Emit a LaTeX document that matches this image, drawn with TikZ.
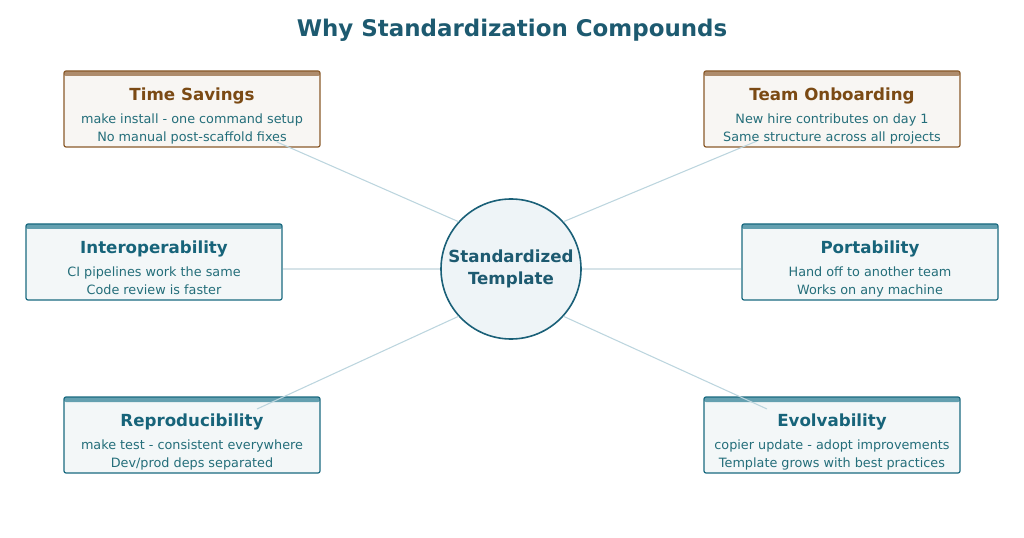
\documentclass[tikz,border=0pt]{standalone}
\usepackage{fontspec}
\setmainfont{DejaVu Sans}
\usetikzlibrary{calc}
\definecolor{maintitle}{HTML}{1D5A70}
\definecolor{brownB}{HTML}{8A5A2A}
\definecolor{brownH}{HTML}{AE8C6C}
\definecolor{brownF}{HTML}{F8F6F3}
\definecolor{brownT}{HTML}{7B4A14}
\definecolor{tealB}{HTML}{1A6A80}
\definecolor{tealH}{HTML}{64A0B0}
\definecolor{tealF}{HTML}{F3F7F8}
\definecolor{tealT}{HTML}{17647A}
\definecolor{bodyc}{HTML}{246E7A}
\definecolor{circB}{HTML}{1A6078}
\definecolor{circF}{HTML}{EEF4F7}
\definecolor{linkc}{HTML}{BCD5DE}
\definecolor{hlinkc}{HTML}{D6E3E8}
\begin{document}
\begin{tikzpicture}[x=0.75pt,y=-0.75pt,
  card/.style={draw, rounded corners=1.5pt, line width=0.9pt, minimum width=192pt, minimum height=57pt, inner sep=0pt},
  browncard/.style={card, draw=brownB, fill=brownF,
    path picture={\fill[brownH] (path picture bounding box.north west) rectangle ($(path picture bounding box.north east)+(0,5)$);}},
  tealcard/.style={card, draw=tealB, fill=tealF,
    path picture={\fill[tealH] (path picture bounding box.north west) rectangle ($(path picture bounding box.north east)+(0,5)$);}},
  cardtitle/.style={font=\fontsize{12.5}{15}\selectfont\bfseries, inner sep=0pt, anchor=base},
  browntitle/.style={cardtitle, text=brownT},
  tealtitle/.style={cardtitle, text=tealT},
  body/.style={font=\fontsize{9.6}{11}\selectfont, text=bodyc, inner sep=0pt, anchor=base},
  link/.style={draw=linkc, line width=0.8pt},
  hlink/.style={draw=hlinkc, line width=1.1pt},
  hub/.style={circle, draw=circB, fill=circF, line width=1.2pt, minimum size=105pt, inner sep=0pt, align=center, text=maintitle, font=\fontsize{12.5}{16.5}\selectfont\bfseries}
]
\useasboundingbox (0,0) rectangle (1024,538);

\node[font=\fontsize{17.2}{20}\selectfont\bfseries, text=maintitle] (title) at (512,30) {Why Standardization Compounds};

% boxes
\node[browncard] (b1) at (192,109) {};
\node[browncard] (b2) at (832,109) {};
\node[tealcard] (b3) at (154,262) {};
\node[tealcard] (b4) at (870,262) {};
\node[tealcard] (b5) at (192,435) {};
\node[tealcard] (b6) at (832,435) {};

% hub
\node[hub] (c) at (511,269) {Standardized\\Template};

% connectors
\coordinate (e1) at (277,142);
\coordinate (e2) at (757,141);
\coordinate (e5) at (257,409);
\coordinate (e6) at (767,409);
\draw[link] (c.138) -- (e1);
\draw[link] (c.42) -- (e2);
\draw[link] (c.222) -- (e5);
\draw[link] (c.318) -- (e6);
\draw[hlink] (c.west) -- (c.west -| b3.east);
\draw[hlink] (c.east) -- (c.east -| b4.west);

% texts
\node[browntitle] (t1) at ($(b1.north)+(0,30)$) {Time Savings};
\node[body] (t1a) at ($(b1.north)+(0,53)$) {make install - one command setup};
\node[body] (t1b) at ($(b1.north)+(0,71)$) {No manual post-scaffold fixes};

\node[browntitle] (t2) at ($(b2.north)+(0,30)$) {Team Onboarding};
\node[body] (t2a) at ($(b2.north)+(0,53)$) {New hire contributes on day 1};
\node[body] (t2b) at ($(b2.north)+(0,71)$) {Same structure across all projects};

\node[tealtitle] (t3) at ($(b3.north)+(0,30)$) {Interoperability};
\node[body] (t3a) at ($(b3.north)+(0,53)$) {CI pipelines work the same};
\node[body] (t3b) at ($(b3.north)+(0,71)$) {Code review is faster};

\node[tealtitle] (t4) at ($(b4.north)+(0,30)$) {Portability};
\node[body] (t4a) at ($(b4.north)+(0,53)$) {Hand off to another team};
\node[body] (t4b) at ($(b4.north)+(0,71)$) {Works on any machine};

\node[tealtitle] (t5) at ($(b5.north)+(0,30)$) {Reproducibility};
\node[body] (t5a) at ($(b5.north)+(0,53)$) {make test - consistent everywhere};
\node[body] (t5b) at ($(b5.north)+(0,71)$) {Dev/prod deps separated};

\node[tealtitle] (t6) at ($(b6.north)+(0,30)$) {Evolvability};
\node[body] (t6a) at ($(b6.north)+(0,53)$) {copier update - adopt improvements};
\node[body] (t6b) at ($(b6.north)+(0,71)$) {Template grows with best practices};
\end{tikzpicture}
\end{document}
